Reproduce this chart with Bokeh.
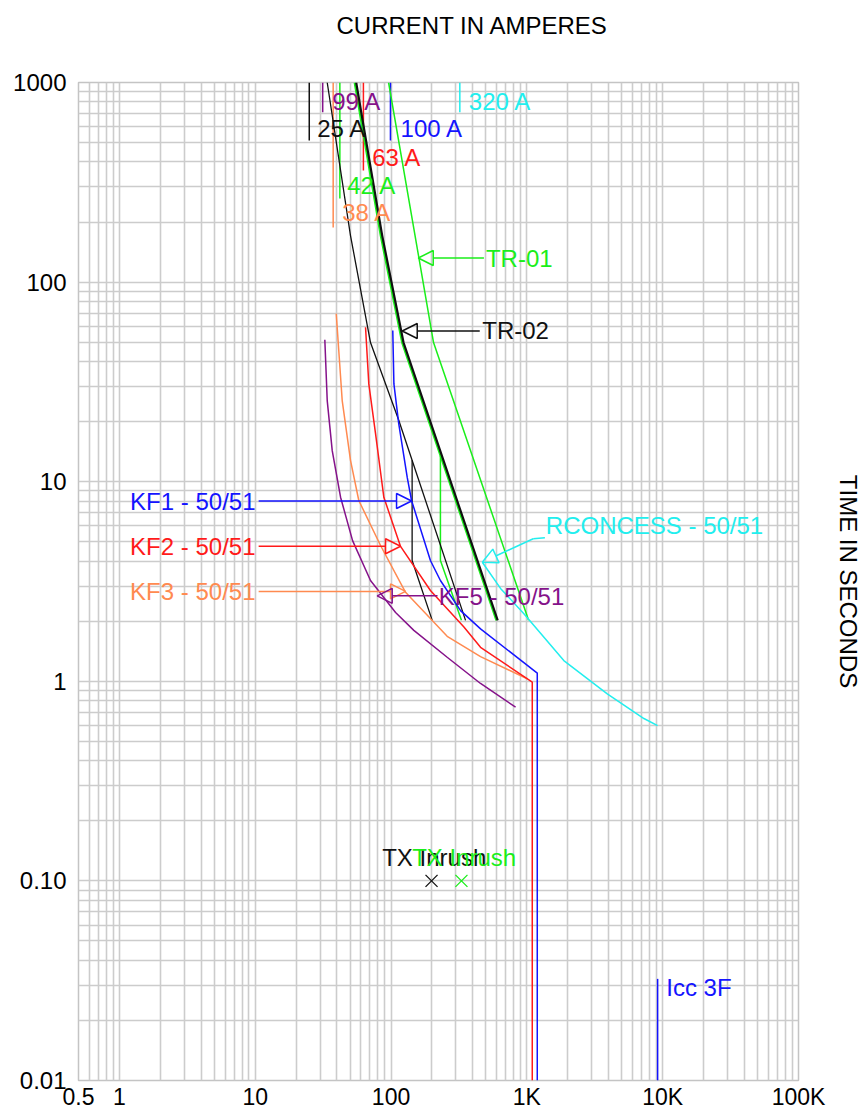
from bokeh.plotting import figure
from bokeh.models import (FixedTicker, Arrow, NormalHead, LogAxis,
                          CustomJSTickFormatter)
from bokeh.core.properties import value
from bokeh.embed import file_html
from bokeh.resources import INLINE

FONT = "Liberation Sans"
FS = "24px"

BLUE = "#1414ff"
RED = "#ff1a1a"
ORANGE = "#ff8a50"
PURPLE = "#85128a"
CYAN = "#22eeee"
GREEN = "#1aee1a"
BLACK = "#111111"

# ---------------- axes ----------------
x_title = "CURRENT IN AMPERES"
y_title = "TIME IN SECONDS"
x_title_at = 398          # current value under the centre of the top title
x_ticks = [0.5, 1, 10, 100, 1000, 10000, 100000]
x_tick_labels = ["0.5", "1", "10", "100", "1K", "10K", "100K"]
y_ticks = [0.01, 0.1, 1, 10, 100, 1000]
y_tick_labels = ["0.01", "0.10", "1", "10", "100", "1000"]

# ---------------- relay curves (current A, time s) ----------------
kf1_i = [103, 105, 114, 131.6, 141.6, 195, 231, 325, 456, 1193, 1193]
kf1_t = [57.2, 30.9, 19.5, 10.5, 8.05, 4.03, 3.2, 2.26, 1.83, 1.10, 0.01]

kf2_i = [64.9, 68.6, 76.9, 88.5, 117.5, 195, 344, 456, 1096, 1096]
kf2_t = [59.4, 30.9, 17.4, 8.36, 4.74, 2.85, 1.87, 1.48, 0.99, 0.01]

kf3_i = [39.5, 43.7, 50.3, 57.9, 83.7, 127.9, 259, 456, 1007]
kf3_t = [69.4, 25.5, 12.8, 8.05, 4.79, 2.79, 1.68, 1.33, 1.03]

kf5_i = [32.55, 33.9, 36.9, 42.5, 52.1, 70.6, 108, 147.2, 259, 456, 826]
kf5_t = [51.4, 25.5, 14.3, 8.36, 5.07, 3.2, 2.21, 1.80, 1.32, 0.975, 0.742]

rc_i = [470, 640, 951, 1871, 3909, 7275, 9170]
rc_t = [3.95, 2.92, 2.18, 1.27, 0.865, 0.651, 0.60]

# ---------------- transformer damage curves ----------------
tr02_i = [55.4, 86.1, 123.6, 610]
tr02_t = [1000, 171, 49.8, 2.02]
tr01_in_i = [54.0, 84.0, 120.8, 597]
tr01_in_t = [1000, 171, 49.8, 2.02]
tr01_out_i = [95.9, 205.6, 1030]
tr01_out_t = [1000, 49.8, 2.02]
tr01_c_i = [231, 231, 330]
tr01_c_t = [13.5, 4.03, 2.02]
tr02_a_i = [33.9, 50.3, 70.6, 114, 353.7]
tr02_a_t = [1000, 171, 49.8, 20.3, 2.02]
tr02_b_i = [143, 143, 201]
tr02_b_t = [12.8, 4.03, 2.02]

# ---------------- pickup markers ----------------
pick_i = [25, 31.4, 62.6, 99, 321, 42, 37.5]
pick_t_low = [512, 710, 362, 512, 710, 262, 188]
pick_colors = [BLACK, PURPLE, RED, BLUE, CYAN, GREEN, ORANGE]
pick_labels = ["25 A", "99 A", "63 A", "100 A", "320 A", "42 A", "38 A"]
pick_lab_i = [28.6, 36.9, 72.7, 117.5, 374, 47.6, 43.7]
pick_lab_t = [591, 807, 422, 591, 807, 305, 222]

# inrush points / short circuit
inrush_i = [198.7, 330]
inrush_t = [0.1, 0.1]
inrush_colors = [BLACK, GREEN]
inrush_lab_i = [86.1, 143]
icc_i = 9180
icc_t = [0.0323, 0.01]

p = figure(frame_width=720, frame_height=998,
           x_axis_type="log", y_axis_type="log",
           x_range=(0.5, 100000), y_range=(0.01, 1000),
           output_backend="svg", toolbar_location=None,
           min_border_left=78, min_border_right=64,
           min_border_top=82, min_border_bottom=28,
           background_fill_color="white", border_fill_color="white")

p.outline_line_color = "#c4c4c4"
p.outline_line_width = 1.5

# grid
gx = [m * 10 ** e for e in range(-1, 6) for m in range(1, 10)]
gx = [v for v in gx if 0.5 <= v <= 100000]
gy = [m * 10 ** e for e in range(-2, 4) for m in range(1, 10)]
gy = [v for v in gy if 0.01 <= v <= 1000]
p.xgrid.ticker = FixedTicker(ticks=gx)
p.ygrid.ticker = FixedTicker(ticks=gy)
for g in (p.xgrid, p.ygrid):
    g.grid_line_color = "#cccccc"
    g.grid_line_width = 1.6

fmt_code = """
for (let i = 0; i < v.length; i++) {
  if (Math.abs(Math.log10(tick) - Math.log10(v[i])) < 1e-6) return l[i];
}
return "";
"""
xa = p.xaxis[0]
xa.ticker = FixedTicker(ticks=x_ticks, minor_ticks=[])
xa.formatter = CustomJSTickFormatter(args=dict(v=x_ticks, l=x_tick_labels), code=fmt_code)
ya = p.yaxis[0]
ya.ticker = FixedTicker(ticks=y_ticks, minor_ticks=[])
ya.formatter = CustomJSTickFormatter(args=dict(v=y_ticks, l=y_tick_labels), code=fmt_code)
for ax in (xa, ya):
    ax.axis_line_color = None
    ax.major_tick_line_color = None
    ax.minor_tick_line_color = None
    ax.major_tick_out = 0
    ax.major_tick_in = 0
    ax.major_label_text_font = FONT
    ax.major_label_text_color = "black"
xa.major_label_text_font_size = "23px"
ya.major_label_text_font_size = FS
xa.major_label_standoff = 3
ya.major_label_standoff = 12

# top title as a single-label axis
ta = LogAxis(ticker=FixedTicker(ticks=[x_title_at], minor_ticks=[]),
             formatter=CustomJSTickFormatter(args=dict(s=x_title), code="return s;"),
             axis_line_color=None, major_tick_line_color=None,
             minor_tick_line_color=None, major_tick_out=0, major_tick_in=0,
             major_label_standoff=44, major_label_text_font=FONT,
             major_label_text_font_size=FS, major_label_text_color="black")
p.add_layout(ta, "above")

ra = LogAxis(ticker=FixedTicker(ticks=[]), axis_label=y_title,
             axis_line_color=None, major_tick_line_color=None,
             minor_tick_line_color=None, major_label_text_font_size="0px",
             major_tick_out=0, major_tick_in=0, major_label_standoff=0,
             axis_label_standoff=36, axis_label_text_font=FONT,
             axis_label_text_font_size=FS, axis_label_text_font_style="normal",
             axis_label_text_color="black")
p.add_layout(ra, "right")

LW = 1.5
# pickup markers
for i, tl, c in zip(pick_i, pick_t_low, pick_colors):
    p.line([i, i], [1000, tl], line_color=c, line_width=LW)

# transformer curves
p.line(tr01_out_i, tr01_out_t, line_color=GREEN, line_width=LW)
p.line(tr01_c_i, tr01_c_t, line_color=GREEN, line_width=LW)
p.line(tr01_in_i, tr01_in_t, line_color=GREEN, line_width=2.2)
p.line(tr02_i, tr02_t, line_color=BLACK, line_width=2.2)
p.line(tr02_a_i, tr02_a_t, line_color=BLACK, line_width=1.3)
p.line(tr02_b_i, tr02_b_t, line_color=BLACK, line_width=1.3)

# relay curves
p.line(kf5_i, kf5_t, line_color=PURPLE, line_width=LW)
p.line(kf3_i, kf3_t, line_color=ORANGE, line_width=LW)
p.line(kf2_i, kf2_t, line_color=RED, line_width=LW)
p.line(kf1_i, kf1_t, line_color=BLUE, line_width=LW)
p.line(rc_i, rc_t, line_color=CYAN, line_width=LW)

# short-circuit marker
p.line([icc_i, icc_i], icc_t, line_color=BLUE, line_width=LW)

# inrush points
p.scatter(inrush_i, inrush_t, marker="x", size=17, line_color=inrush_colors,
          line_width=1.3)

# labels
def txt(x, y, s, c, align="left"):
    p.text(x=[x], y=[y], text=[s], text_color=c, text_font=value(FONT),
           text_font_size=FS, text_baseline="middle", text_align=align)

for s, x, y, c in zip(pick_labels, pick_lab_i, pick_lab_t, pick_colors):
    txt(x, y, s, c)

txt(499.6, 132, "TR-01", GREEN)
txt(469.6, 56.9, "TR-02", BLACK)
txt(10.05, 8.0, "KF1 - 50/51", BLUE, "right")
txt(10.05, 4.75, "KF2 - 50/51", RED, "right")
txt(10.05, 2.82, "KF3 - 50/51", ORANGE, "right")
txt(225, 2.67, "KF5 - 50/51", PURPLE)
txt(1379, 6.04, "RCONCESS - 50/51", CYAN)
txt(inrush_lab_i[0], 0.1315, "TX Inrush", BLACK)
txt(inrush_lab_i[1], 0.1315, "TX Inrush", GREEN)
txt(10630, 0.0293, "Icc 3F", BLUE)

# leaders with arrows
def arrow(x0, y0, x1, y1, c):
    p.add_layout(Arrow(end=NormalHead(size=15, fill_color=None, line_color=c,
                                      line_width=1.5),
                       x_start=x0, y_start=y0, x_end=x1, y_end=y1,
                       line_color=c, line_width=1.5))

arrow(483, 132, 158.6, 132, GREEN)
arrow(450, 56.9, 120.9, 56.9, BLACK)
arrow(10.6, 8.0, 141.6, 8.0, BLUE)
arrow(10.6, 4.75, 117.5, 4.75, RED)
arrow(10.6, 2.82, 127.9, 2.82, ORANGE)
arrow(220, 2.68, 79.1, 2.68, PURPLE)
p.line([1358, 1114], [5.24, 5.18], line_color=CYAN, line_width=1.5)
arrow(1114, 5.18, 470, 3.95, CYAN)

open("out.html", "w").write(file_html(p, INLINE))
